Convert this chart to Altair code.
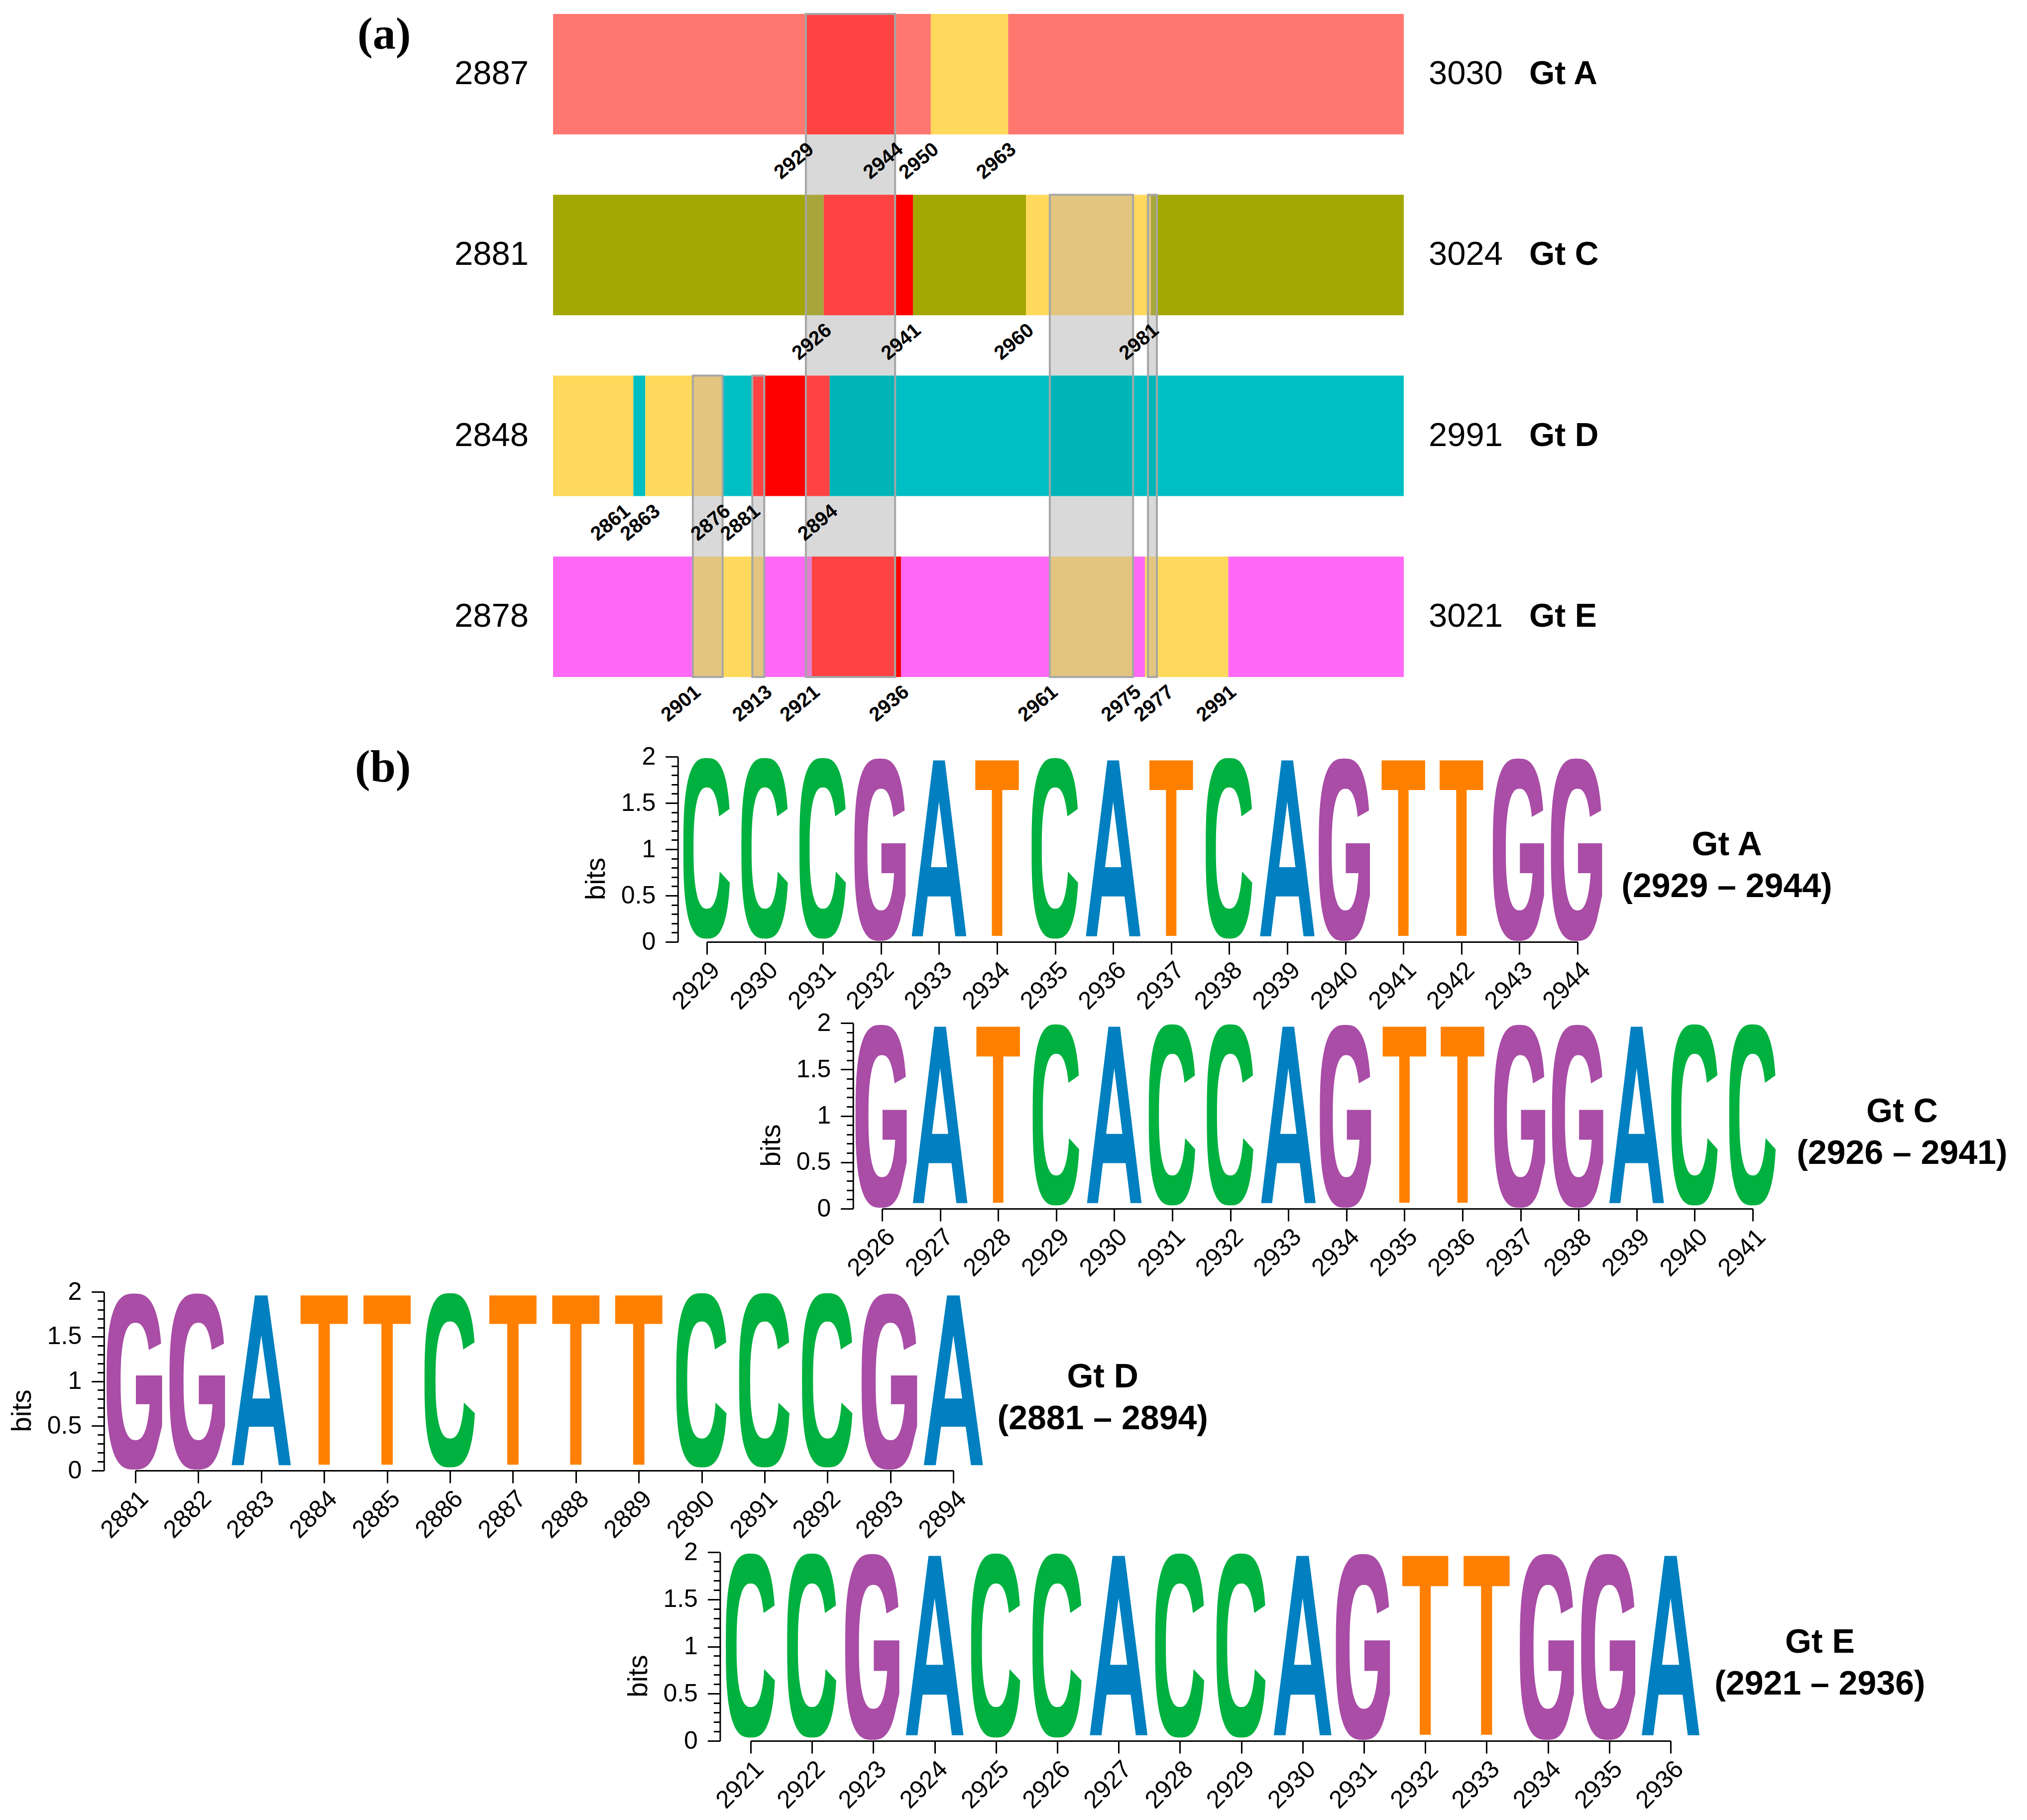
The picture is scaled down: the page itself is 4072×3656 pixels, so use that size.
import altair as alt
import numpy as np
import pandas as pd

W, H = 4040, 3642
MARGIN = 8


def P(v):
    return v - MARGIN


# ====================== panel (a) data ======================
rows = ["Gt A", "Gt C", "Gt D", "Gt E"]
row_start = [2887, 2881, 2848, 2878]
row_end = [3030, 3024, 2991, 3021]

seg_row = ["Gt A", "Gt A", "Gt C", "Gt C", "Gt D", "Gt D", "Gt D", "Gt E", "Gt E", "Gt E", "Gt E"]
seg_from = [2929, 2950, 2926, 2960, 2848, 2863, 2881, 2901, 2921, 2961, 2977]
seg_to = [2944, 2963, 2941, 2981, 2861, 2876, 2894, 2913, 2936, 2975, 2991]
seg_kind = ["red", "yellow", "red", "yellow", "yellow", "yellow", "red", "yellow", "red", "yellow", "yellow"]

# shaded boxes, given in the coordinates of a reference genotype row
box_ref = ["Gt A", "Gt E", "Gt C", "Gt E", "Gt D"]
box_from = [2929, 2961, 2980.5, 2901, 2881]
box_to = [2944, 2975, 2982, 2906, 2883]
box_top = ["Gt A", "Gt C", "Gt C", "Gt D", "Gt D"]
box_bottom = ["Gt E", "Gt E", "Gt E", "Gt E", "Gt E"]

lab_row = ["Gt A"] * 4 + ["Gt C"] * 4 + ["Gt D"] * 5 + ["Gt E"] * 8
lab_val = [2929, 2944, 2950, 2963,
           2926, 2941, 2960, 2981,
           2861, 2863, 2876, 2881, 2894,
           2901, 2913, 2921, 2936, 2961, 2975, 2977, 2991]

row_color = {"Gt A": "#FF776F", "Gt C": "#A3A800", "Gt D": "#00BFC4", "Gt E": "#FF69F6"}
row_color_boxed = {"Gt A": "#E9837D", "Gt C": "#A8A63A", "Gt D": "#00B5B8", "Gt E": "#E27FD3"}
kind_color = {"red": "#FF0000", "yellow": "#FFD95B"}
kind_color_boxed = {"red": "#FF4242", "yellow": "#E3C580"}

# ====================== panel (b) data ======================
logo_name = ["Gt A", "Gt C", "Gt D", "Gt E"]
logo_first = [2929, 2926, 2881, 2921]
logo_seq = ["CCCGATCATCAGTTGG", "GATCACCAGTTGGACC", "GGATTCTTTCCCGA", "CCGACCACCAGTTGGA"]
logo_bits = [
    [2, 2, 2, 2, 2, 2, 2, 2, 2, 2, 2, 2, 2, 2, 2, 2],
    [2, 2, 2, 2, 2, 2, 2, 2, 2, 2, 2, 2, 2, 2, 2, 2],
    [2, 2, 2, 2, 2, 2, 2, 2, 2, 2, 2, 2, 2, 2],
    [2, 2, 2, 2, 2, 2, 2, 2, 2, 2, 2, 2, 2, 2, 2, 2],
]
letter_color = {"A": "#0080C0", "C": "#00B140", "G": "#A94DA6", "T": "#FF8000"}

# ---------------- layout / style (page pixels) ----------------
A_X0, A_X1 = 1111, 2820
A_Y0, A_PITCH, A_BAR = 28, 363.3, 242
BAR_FRAC = A_BAR / A_PITCH
PX_PER_UNIT = (A_X1 - A_X0) / (row_end[0] - row_start[0])
# horizontal nudges (px) for crowded boundary labels
label_nudge = {("Gt D", 2861): -22, ("Gt D", 2863): 14, ("Gt E", 2977): 42}

logo_x0 = [1420, 1772, 272, 1508]      # x of first tick
logo_sp = [116.6, 116.6, 126.4, 123.2]  # column spacing
logo_y2 = [1520, 2055, 2595, 3118]      # y of 2 bits
logo_y0 = [1892, 2428, 2954, 3497]      # y of 0 bits

FONT = "Liberation Sans"


def off(r, p):
    s = row_start[r]
    if p <= s:
        return 0.0
    return min(p - s + 0.5, row_end[r] - s)


L = row_end[0] - row_start[0]
xa = alt.Scale(domain=[0, L], range=[P(A_X0), P(A_X1)], nice=False, zero=False)
ya = alt.Scale(domain=[0, 4], range=[P(A_Y0), P(A_Y0 + 4 * A_PITCH)], nice=False, zero=False)

# pieces of the bars (split where segments / boxes start or end)
piece_recs = []
for r, name in enumerate(rows):
    Lr = row_end[r] - row_start[r]
    segs = [(off(r, f), off(r, t), k) for rr, f, t, k in zip(seg_row, seg_from, seg_to, seg_kind) if rr == name]
    bxs = []
    for ref, f, t, tp, bt in zip(box_ref, box_from, box_to, box_top, box_bottom):
        if rows.index(tp) <= r <= rows.index(bt):
            ri = rows.index(ref)
            bxs.append((off(ri, f), off(ri, t)))
    cuts = sorted(set([0, Lr] + [v for s in segs for v in s[:2]] + [v for b in bxs for v in b]))
    for a, b in zip(cuts[:-1], cuts[1:]):
        m = (a + b) / 2
        kind = next((k for s0, s1, k in segs if s0 <= m <= s1), "base")
        inbox = any(b0 <= m <= b1 for b0, b1 in bxs)
        if kind == "base":
            col = row_color_boxed[name] if inbox else row_color[name]
        else:
            col = kind_color_boxed[kind] if inbox else kind_color[kind]
        piece_recs.append({"x": a, "x2": b, "y": r, "y2": r + BAR_FRAC, "c": col})
piece_df = pd.DataFrame(piece_recs)

box_recs = []
for ref, f, t, tp, bt in zip(box_ref, box_from, box_to, box_top, box_bottom):
    ri = rows.index(ref)
    box_recs.append({"x": off(ri, f), "x2": off(ri, t), "y": rows.index(tp), "y2": rows.index(bt) + BAR_FRAC})
box_df = pd.DataFrame(box_recs)

row_df = pd.DataFrame({
    "name": rows,
    "s": [str(v) for v in row_start],
    "e": [str(v) for v in row_end],
    "x0": [0] * 4,
    "x1": [L] * 4,
    "yc": [i + BAR_FRAC / 2 for i in range(4)],
})

lab_df = pd.DataFrame({
    "t": [str(v) for v in lab_val],
    "x": [off(rows.index(r), v) + label_nudge.get((r, v), 0) / PX_PER_UNIT for r, v in zip(lab_row, lab_val)],
    "y": [rows.index(r) + BAR_FRAC for r in lab_row],
})

X = lambda f: alt.X(f, scale=xa, axis=None)
Y = lambda f: alt.Y(f, scale=ya, axis=None)

layers = []
layers.append(alt.Chart(box_df).mark_rect(color="#D9D9D9").encode(x=X("x:Q"), x2="x2:Q", y=Y("y:Q"), y2="y2:Q"))
layers.append(alt.Chart(piece_df).mark_rect().encode(
    x=X("x:Q"), x2="x2:Q", y=Y("y:Q"), y2="y2:Q", color=alt.Color("c:N", scale=None)))
layers.append(alt.Chart(box_df).mark_rect(fillOpacity=0, stroke="#A6A6A6", strokeWidth=4).encode(
    x=X("x:Q"), x2="x2:Q", y=Y("y:Q"), y2="y2:Q"))
layers.append(alt.Chart(row_df).mark_text(align="right", baseline="middle", font=FONT, fontSize=67,
                                          color="black", dx=-49).encode(x=X("x0:Q"), y=Y("yc:Q"), text="s:N"))
layers.append(alt.Chart(row_df).mark_text(align="left", baseline="middle", font=FONT, fontSize=67,
                                          color="black", dx=50).encode(x=X("x1:Q"), y=Y("yc:Q"), text="e:N"))
layers.append(alt.Chart(row_df).mark_text(align="left", baseline="middle", font=FONT, fontSize=66,
                                          fontWeight="bold", color="black", dx=252).encode(
    x=X("x1:Q"), y=Y("yc:Q"), text="name:N"))
layers.append(alt.Chart(lab_df).mark_text(align="right", baseline="top", font=FONT, fontSize=40,
                                          fontWeight="bold", color="black", angle=320, dx=-8, dy=6).encode(
    x=X("x:Q"), y=Y("y:Q"), text="t:N"))

# panel tags
for tag, tx, ty in [("(a)", 718, 98), ("(b)", 713, 1570)]:
    layers.append(alt.Chart(pd.DataFrame({"tag": [tag]})).mark_text(
        align="left", baseline="alphabetic", font="Liberation Serif", fontSize=92, fontWeight="bold",
        color="black").encode(x=alt.value(P(tx)), y=alt.value(P(ty)), text="tag:N"))


# ====================== glyph outlines ======================
def se_pt(e, t):
    cx, cy, a, b, n = e
    c, s = np.cos(t), np.sin(t)
    return (cx + a * np.sign(c) * abs(c) ** (2 / n), cy + b * np.sign(s) * abs(s) ** (2 / n))


def se_arc(e, t0, t1, num=64):
    return [se_pt(e, t) for t in np.linspace(t0, t1, num)]


def t_at_y(e, y):
    cx, cy, a, b, n = e
    v = min(abs(y - cy) / b, 1.0) ** (n / 2)
    t = np.arcsin(v)
    return t if y >= cy else -t


def t_at_x_low(e, x):
    cx, cy, a, b, n = e
    v = min(abs(x - cx) / a, 1.0) ** (n / 2)
    return -np.arccos(v)


C_OUT = (0.0, 1.01, 0.405, 0.975, 2.8)
C_IN = (0.0, 1.013, 0.23, 0.655, 2.5)
G_OUT = (-0.017, 0.995, 0.441, 0.985, 2.8)
G_IN = (0.0, 0.997, 0.235, 0.657, 2.5)

glyph_c = (se_arc(C_OUT, t_at_y(C_OUT, 1.435), 2 * np.pi + t_at_y(C_OUT, 0.64))
           + se_arc(C_IN, t_at_y(C_IN, 0.76), t_at_y(C_IN, 1.355) - 2 * np.pi))
glyph_g = (se_arc(G_OUT, t_at_y(G_OUT, 1.42), 2 * np.pi + t_at_y(G_OUT, 0.285))
           + [(0.424, 0.50), (0.424, 1.064), (0.008, 1.064), (0.008, 0.742), (0.226, 0.742)]
           + se_arc(G_IN, t_at_x_low(G_IN, 0.226), t_at_y(G_IN, 1.35) - 2 * np.pi))
glyph_a_out = [(-0.47, 0.06), (-0.10, 1.96), (0.10, 1.96), (0.47, 0.06), (0.28, 0.06),
               (0.196, 0.49), (-0.196, 0.49), (-0.28, 0.06)]
glyph_a_hole = [(0.0, 1.515), (-0.14, 0.806), (0.14, 0.806)]
glyph_t = [(-0.375, 1.96), (0.375, 1.96), (0.375, 1.64), (0.09, 1.64), (0.09, 0.065),
           (-0.09, 0.065), (-0.09, 1.64), (-0.375, 1.64)]
GLYPHS = {"A": [glyph_a_out, glyph_a_hole], "C": [glyph_c], "G": [glyph_g], "T": [glyph_t]}


def glyph_path(letter, kx):
    parts = []
    for poly in GLYPHS[letter]:
        pts = [(x * kx, 1 - y) for x, y in poly]
        parts.append("M" + "L".join(f"{x:.4f},{y:.4f}" for x, y in pts) + "Z")
    return "".join(parts)


LETTERS = ["A", "C", "G", "T"]
minor_vals = [round(v * 0.1, 1) for v in range(21) if v % 5 != 0]

for i in range(4):
    seq = logo_seq[i]
    n = len(seq)
    first = logo_first[i]
    last = first + n - 1
    x0, sp, y2, y0 = logo_x0[i], logo_sp[i], logo_y2[i], logo_y0[i]
    h = y0 - y2
    kx = sp / (h / 2)
    xs = alt.Scale(domain=[first, last], range=[P(x0), P(x0 + (n - 1) * sp)], nice=False, zero=False)
    ys = alt.Scale(domain=[0, 2], range=[P(y0), P(y2)], nice=False, zero=False)
    axis_x = P(x0 - sp / 2)
    df = pd.DataFrame({
        "pos": list(range(first, last + 1)),
        "letter": list(seq),
        "bits": logo_bits[i],
    })
    df["mid"] = df["bits"] / 2
    df["sz"] = (df["bits"] / 2 * h) ** 2

    xaxis = alt.Axis(orient="bottom", offset=P(y0) - H, values=list(range(first, last + 1)), format="d",
                     labelAngle=315, labelAlign="right", labelBaseline="top", labelPadding=6,
                     labelFontSize=50, labelFont=FONT, labelColor="black", labelOverlap=False,
                     labelBound=False, labelFlush=False, tickSize=25, tickWidth=3, tickColor="black",
                     domainColor="black", domainWidth=3, grid=False, title=None)
    yaxis = alt.Axis(orient="left", offset=-axis_x, values=[0, 0.5, 1, 1.5, 2], format="~g",
                     labelFontSize=50, labelFont=FONT, labelColor="black", labelPadding=20,
                     labelOverlap=False, labelBound=False, labelFlush=False,
                     tickSize=25, tickWidth=3, tickColor="black", domainColor="black", domainWidth=3,
                     grid=False, title="bits", titleFont=FONT, titleFontSize=55, titleFontWeight="normal",
                     titleColor="black", titleAngle=270, titleAlign="center", titleBaseline="alphabetic",
                     titleX=-147, titleY=P((y0 + y2) / 2 + 59))
    layers.append(alt.Chart(df).mark_point(filled=True, opacity=1, strokeWidth=0).encode(
        x=alt.X("pos:Q", scale=xs, axis=xaxis),
        y=alt.Y("mid:Q", scale=ys, axis=yaxis),
        shape=alt.Shape("letter:N", scale=alt.Scale(domain=LETTERS, range=[glyph_path(c, kx) for c in LETTERS]),
                        legend=None),
        color=alt.Color("letter:N", scale=alt.Scale(domain=LETTERS, range=[letter_color[c] for c in LETTERS]),
                        legend=None),
        size=alt.Size("sz:Q", scale=None, legend=None),
    ))
    minor_axis = alt.Axis(orient="left", offset=-axis_x, values=minor_vals, labels=False, domain=False,
                          tickSize=13, tickWidth=3, tickColor="black", grid=False, title=None)
    layers.append(alt.Chart(df).mark_point(opacity=0).encode(
        x=alt.X("pos:Q", scale=xs, axis=None),
        y=alt.Y("mid:Q", scale=ys, axis=minor_axis),
    ))
    lab = pd.DataFrame({"pos": [last], "mid": [1.0],
                        "label": [f"{logo_name[i]}\n({first} \u2013 {last})"]})
    layers.append(alt.Chart(lab).mark_text(align="center", baseline="alphabetic", font=FONT, fontSize=68,
                                           fontWeight="bold", color="black", lineBreak="\n", lineHeight=84,
                                           dx=300, dy=12).encode(
        x=alt.X("pos:Q", scale=xs, axis=None),
        y=alt.Y("mid:Q", scale=ys, axis=None),
        text="label:N",
    ))

chart = alt.layer(*layers).resolve_scale(
    x="independent", y="independent", color="independent", shape="independent", size="independent"
).resolve_axis(x="independent", y="independent").properties(
    width=W, height=H, padding=0, autosize=alt.AutoSizeParams(type="none")
).configure_view(stroke=None)

chart.save("out.html", embed_options={"renderer": "svg", "actions": False})
